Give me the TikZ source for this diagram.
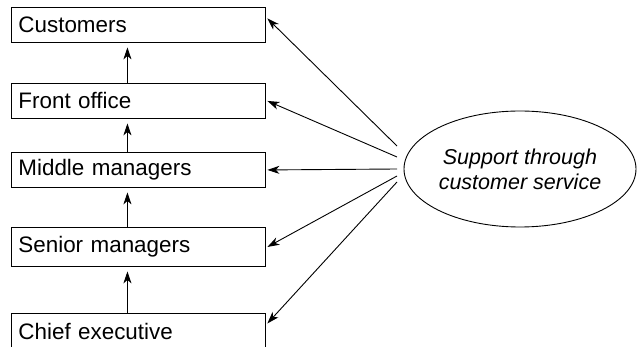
\documentclass[tikz,border=0pt]{standalone}
\usepackage{fontspec}
\setmainfont{Liberation Sans}
\usetikzlibrary{arrows.meta,shapes.geometric}
\begin{document}
\begin{tikzpicture}[x=1pt,y=-1pt,
  levelbox/.style={draw,line width=0.9pt,rectangle,anchor=north west,
    minimum width=254pt,text width=240pt,inner xsep=7pt,inner ysep=0pt,align=left,
    font=\fontsize{22.4}{26}\selectfont},
  link/.style={line width=0.9pt,-{Stealth[length=12pt,width=8pt,inset=3.5pt]}},
  uplink/.style={link,shorten >=4.5pt}]
\useasboundingbox (0,0) rectangle (637,347);
% hierarchy of levels
\node[levelbox,minimum height=35pt] (cust) at (11,7) {Customers};
\node[levelbox,minimum height=35pt] (front) at (11,83) {Front office};
\node[levelbox,minimum height=35pt] (mid) at (11,152) {Middle managers};
\node[levelbox,minimum height=39pt] (senior) at (11,227) {Senior managers};
\node[levelbox,minimum height=36pt] (chief) at (11,313) {Chief executive};
% upward links between levels
\draw[uplink] ([xshift=-11pt]front.north) -- ([xshift=-11pt]cust.south);
\draw[uplink] ([xshift=-11pt]mid.north) -- ([xshift=-11pt]front.south);
\draw[uplink] ([xshift=-11pt]senior.north) -- ([xshift=-11pt]mid.south);
\draw[uplink] ([xshift=-11pt]chief.north) -- ([xshift=-11pt]senior.south);
% support ellipse
\node[draw,ellipse,line width=0.9pt,minimum width=232pt,minimum height=116pt,inner sep=0pt,
  align=center,font=\fontsize{21.5}{25}\selectfont\itshape] (supp) at (520,169)
  {Support through\\customer service};
\coordinate (s1) at (397,146);
\coordinate (s2) at (397,157);
\coordinate (s3) at (397,169);
\coordinate (s4) at (397,176);
\coordinate (s5) at (397,182);
\draw[link] (s1) -- ([xshift=1.5pt,yshift=6.5pt]cust.east);
\draw[link] (s2) -- ([xshift=1.5pt]front.east);
\draw[link] (s3) -- ([xshift=1.5pt]mid.east);
\draw[link] (s4) -- ([xshift=1.5pt]senior.east);
\draw[link] (s5) -- ([xshift=1.5pt,yshift=8pt]chief.east);
\end{tikzpicture}
\end{document}
